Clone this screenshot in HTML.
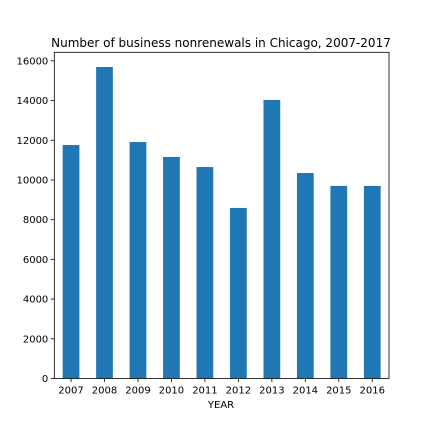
<!DOCTYPE html>
<html><head><meta charset="utf-8"><style>
body{margin:0;background:#fff}
svg{display:block;font-family:"DejaVu Sans","Liberation Sans",sans-serif}
</style></head><body>
<svg id="chart" width="432" height="432">
<text x="221" y="47" text-anchor="middle" font-size="12" fill="#000">Number of business nonrenewals in Chicago, 2007-2017</text>
<text x="221" y="408" text-anchor="middle" font-size="10" fill="#000">YEAR</text>
<g id="bars"></g><g id="axes"></g>
</svg>
<script>
const categories=["2007","2008","2009","2010","2011","2012","2013","2014","2015","2016"];
const values=[11760,15690,11910,11160,10650,8590,14030,10350,9700,9700];
const yTicks=[0,2000,4000,6000,8000,10000,12000,14000,16000];
const L=54.3,R=389,T=52.3,B=378.5,yMax=16430;
const NS="http://www.w3.org/2000/svg";
function y(v){return B-(v/yMax)*(B-T);}
const step=(R-L)/categories.length;
function xc(i){return L+step/2+i*step;}
const bars=document.getElementById('bars'),axes=document.getElementById('axes');
function mk(tag,attrs,parent){const e=document.createElementNS(NS,tag);for(const k in attrs)e.setAttribute(k,attrs[k]);parent.appendChild(e);return e;}
values.forEach((v,i)=>{
 const r=mk('rect',{x:xc(i)-step/4,y:y(v),width:step/2,height:B-y(v),fill:'#1f77b4'},bars);
 
 
 mk('line',{x1:xc(i),x2:xc(i),y1:B,y2:B+3.5,stroke:'#000','stroke-width':0.8},axes);
 const t=mk('text',{x:xc(i),y:B+15,'text-anchor':'middle','font-size':10},axes);
 t.textContent=categories[i];
 
 
});
yTicks.forEach(v=>{
 mk('line',{x1:L-3.5,x2:L,y1:y(v),y2:y(v),stroke:'#000','stroke-width':0.8},axes);
 const t=mk('text',{x:L-6,y:y(v)+3.5,'text-anchor':'end','font-size':10},axes);
 t.textContent=v;
 
 
});
const f=mk('rect',{x:L,y:T,width:R-L,height:B-T,fill:'none',stroke:'#000','stroke-width':0.8},axes);


</script>
</body></html>
